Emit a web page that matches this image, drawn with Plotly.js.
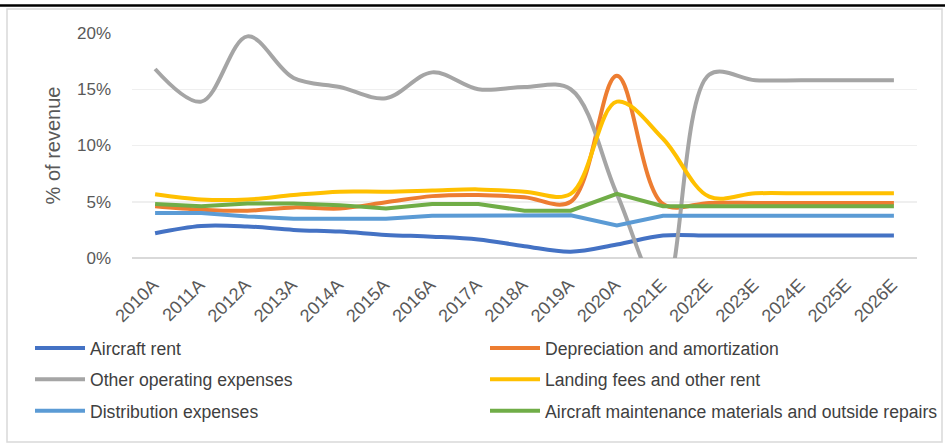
<!DOCTYPE html>
<html>
<head>
<meta charset="utf-8">
<script src="https://cdn.plot.ly/plotly-3.0.1.min.js"></script>
<style>html,body{margin:0;padding:0;background:#fff;}#chart{width:945px;height:445px;}</style>
</head>
<body>
<div id="chart"></div>
<script>
const years = ["2010A","2011A","2012A","2013A","2014A","2015A","2016A","2017A","2018A","2019A","2020A","2021E","2022E","2023E","2024E","2025E","2026E"];
const aircraftRent = [2.2,2.85,2.8,2.5,2.35,2.05,1.9,1.65,1.05,0.56,1.2,2.0,2.0,2.0,2.0,2.0,2.0];
const depreciation = [4.6,4.3,4.2,4.5,4.4,4.95,5.5,5.6,5.4,5.0,16.2,4.8,4.9,4.9,4.9,4.9,4.9];
const otherOperating = [16.8,13.9,19.7,16.0,15.2,14.2,16.5,15.0,15.2,15.0,5.7,-3.2,16.3,15.8,15.8,15.8,15.8];
const landingFees = [5.66,5.2,5.2,5.6,5.9,5.9,6.0,6.1,5.9,5.7,13.9,10.6,5.45,5.75,5.75,5.75,5.75];
const distribution = [4.0,4.0,3.7,3.5,3.5,3.5,3.75,3.75,3.75,3.8,2.9,3.75,3.75,3.75,3.75,3.75,3.75];
const maintenance = [4.8,4.6,4.85,4.85,4.7,4.4,4.8,4.8,4.2,4.2,5.7,4.6,4.6,4.6,4.6,4.6,4.6];

const seriesNames = ["Aircraft rent","Depreciation and amortization","Other operating expenses","Landing fees and other rent","Distribution expenses","Aircraft maintenance materials and outside repairs"];
const seriesData = [aircraftRent, depreciation, otherOperating, landingFees, distribution, maintenance];
const seriesColors = ["#4472C4","#ED7D31","#A5A5A5","#FFC000","#5B9BD5","#70AD47"];
const seriesShapes = ["spline","spline","spline","spline","linear","linear"];
const seriesLegend = ["legend","legend2","legend","legend2","legend","legend2"];

const W = 945, H = 445, L = 132, R = 28, T = 33, B = 187;
const px = x => (x - L) / (W - L - R);
const py = y => (H - B - y) / (H - T - B);

const traces = seriesNames.map((n, i) => ({
  type: "scatter", mode: "lines", name: n,
  x: years, y: seriesData[i].map(v => v / 100),
  line: {color: seriesColors[i], width: 4, shape: seriesShapes[i], smoothing: 1},
  legend: seriesLegend[i], legendgroup: "g" + i,
  hoverinfo: "skip"
}));

const legendFont = {size: 17.6, color: "#404040", family: "Liberation Sans, Arial, sans-serif"};
const baseLegend = {
  orientation: "v", xanchor: "left", yanchor: "top", y: py(330),
  font: legendFont, itemwidth: 50, tracegroupgap: 5.5, bgcolor: "rgba(0,0,0,0)"
};

const layout = {
  width: W, height: H,
  margin: {l: L, r: R, t: T, b: B, autoexpand: false},
  paper_bgcolor: "#ffffff", plot_bgcolor: "#ffffff",
  font: {family: "Liberation Sans, Arial, sans-serif", color: "#595959"},
  showlegend: true,
  legend: Object.assign({}, baseLegend, {x: px(30)}),
  legend2: Object.assign({}, baseLegend, {x: px(485)}),
  xaxis: {
    type: "category", range: [-0.5, years.length - 0.5], tickangle: -45,
    showgrid: false, zeroline: false,
    showline: false, ticks: "", tickfont: {size: 18, color: "#595959"},
    ticklabelshift: -2, ticklabelstandoff: 12,
    fixedrange: true
  },
  yaxis: {
    range: [0, 0.2], tickvals: [0, 0.05, 0.10, 0.15, 0.20], tickformat: ".0%",
    showgrid: true, gridcolor: "#EFEFEF", gridwidth: 1.5,
    zeroline: true, zerolinecolor: "#D9D9D9", zerolinewidth: 2,
    showline: false, ticks: "", ticklabelstandoff: 20,
    tickfont: {size: 17, color: "#595959"},
    title: {text: "% of revenue", font: {size: 20, color: "#595959"}, standoff: 10},
    fixedrange: true
  },
  shapes: [
    {type: "rect", xref: "paper", yref: "paper", x0: px(7), x1: px(942), y0: py(9), y1: py(442),
     line: {color: "#D9D9D9", width: 1.5}, layer: "below"},
    {type: "line", xref: "paper", yref: "paper", x0: px(0), x1: px(945), y0: py(5.5), y1: py(5.5),
     line: {color: "#000000", width: 2.5}}
  ]
};

Plotly.newPlot("chart", traces, layout, {staticPlot: true, displayModeBar: false});
</script>
</body>
</html>
